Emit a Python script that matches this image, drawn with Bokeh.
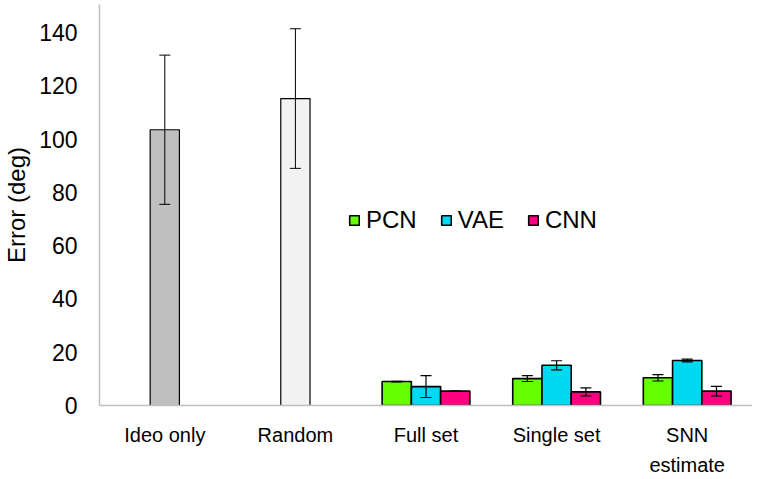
from bokeh.plotting import figure
from bokeh.models import (ColumnDataSource, FactorRange, Range1d, Whisker, TeeHead,
                          SingleIntervalTicker, Legend, LegendItem)
from bokeh.transform import dodge
from bokeh.embed import file_html
from bokeh.resources import INLINE

categories = ["Ideo only", "Random", "Full set", "Single set", "SNN\nestimate"]

# single-bar baselines
base_cats = ["Ideo only", "Random"]
base_vals = [103.5, 115.2]
base_errs = [28.0, 26.2]
base_colors = ["#BFBFBF", "#F2F2F2"]

# grouped models
group_cats = ["Full set", "Single set", "SNN\nestimate"]
series = ["PCN", "VAE", "CNN"]
pcn_vals = [9.0, 10.1, 10.4]
pcn_errs = [0.1, 1.1, 1.2]
vae_vals = [7.1, 15.1, 16.9]
vae_errs = [4.1, 1.7, 0.5]
cnn_vals = [5.4, 5.1, 5.4]
cnn_errs = [0.05, 1.5, 1.8]
series_colors = ["#66FF00", "#00D9F2", "#FF0080"]

FONT = "Liberation Sans"

p = figure(x_range=FactorRange(factors=categories, range_padding=0),
           y_range=Range1d(0, 150.5),
           width=752, height=479, output_backend="svg", toolbar_location=None,
           min_border_left=92, min_border_right=0, min_border_top=4, min_border_bottom=74)
p.outline_line_color = None
p.xgrid.grid_line_color = None
p.ygrid.grid_line_color = None

bw = 0.224

bsrc = ColumnDataSource(dict(x=base_cats, top=base_vals, color=base_colors,
                             upper=[v + e for v, e in zip(base_vals, base_errs)],
                             lower=[v - e for v, e in zip(base_vals, base_errs)]))
p.vbar(x="x", top="top", width=bw, source=bsrc, fill_color="color",
       line_color="black", line_width=1.2)
p.add_layout(Whisker(source=bsrc, base="x", upper="upper", lower="lower",
                     level="overlay", line_color="black", line_width=1,
                     upper_head=TeeHead(size=11, line_color="black", line_width=1),
                     lower_head=TeeHead(size=11, line_color="black", line_width=1)))

vals = [pcn_vals, vae_vals, cnn_vals]
errs = [pcn_errs, vae_errs, cnn_errs]
offsets = [-bw, 0.0, bw]
items = []
for name, v, e, c, off in zip(series, vals, errs, series_colors, offsets):
    src = ColumnDataSource(dict(x=group_cats, top=v,
                                upper=[a + b for a, b in zip(v, e)],
                                lower=[a - b for a, b in zip(v, e)]))
    r = p.vbar(x=dodge("x", off, range=p.x_range), top="top", width=bw, source=src,
               fill_color=c, line_color="black", line_width=1.6)
    p.add_layout(Whisker(source=src, base=dodge("x", off, range=p.x_range),
                         upper="upper", lower="lower", level="overlay",
                         line_color="black", line_width=1.2,
                         upper_head=TeeHead(size=11, line_color="black", line_width=1.2),
                         lower_head=TeeHead(size=11, line_color="black", line_width=1.2)))
    items.append(LegendItem(label=name, renderers=[r]))

legend = Legend(items=items, orientation="horizontal", location=(249, 171),
                glyph_width=12, glyph_height=12, label_standoff=6, spacing=23,
                padding=0, margin=0, border_line_color=None, background_fill_alpha=0,
                label_text_font=FONT, label_text_font_size="24px", label_text_color="black")
p.add_layout(legend, "center")

p.yaxis.ticker = SingleIntervalTicker(interval=20)
p.yaxis.axis_label = "Error (deg)"
p.yaxis.axis_label_text_font = FONT
p.yaxis.axis_label_text_font_size = "24px"
p.yaxis.axis_label_text_font_style = "normal"
p.yaxis.axis_label_text_color = "black"
p.yaxis.axis_label_standoff = 6
for ax in (p.xaxis, p.yaxis):
    ax.axis_line_color = "#BFBFBF"
    ax.axis_line_width = 1.5
    ax.major_tick_line_color = None
    ax.minor_tick_line_color = None
    ax.major_label_text_font = FONT
    ax.major_label_text_color = "black"
p.yaxis.major_label_text_font_size = "23px"
p.yaxis.major_label_standoff = 16
p.xaxis.major_label_text_font_size = "20px"
p.xaxis.major_label_text_line_height = 1.4
p.xaxis.major_label_standoff = 12

open("out.html", "w").write(file_html(p, INLINE))
